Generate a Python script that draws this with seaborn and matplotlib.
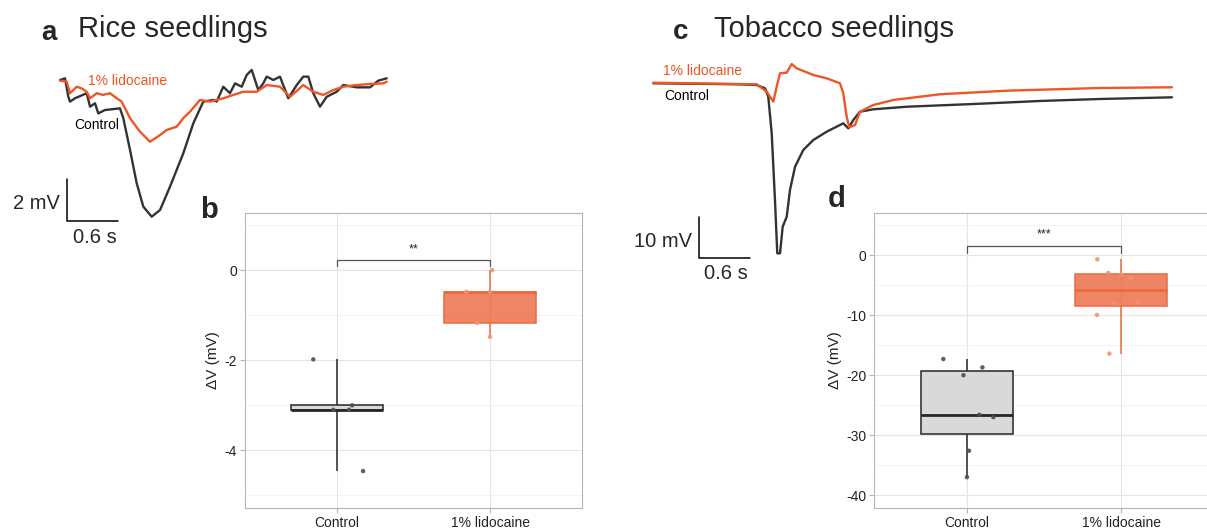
import numpy as np
import pandas as pd
import matplotlib
matplotlib.use("Agg")
import matplotlib.pyplot as plt
import matplotlib.colors as mcolors
import seaborn as sns

# ---- data ----
groups = ["Control", "1% lidocaine"]

# b: rice seedlings, delta V (mV)
rice_control = [-1.98, -3.0, -3.1, -3.1, -4.46]
rice_lido = [0.0, -0.48, -0.48, -1.17, -1.48]

# d: tobacco seedlings, delta V (mV)
tob_control = [-17.3, -18.7, -20.0, -26.6, -27.0, -32.6, -37.0]
tob_lido = [-0.67, -2.95, -3.28, -3.78, -7.83, -8.0, -9.95, -16.4]

# a: rice traces (time in s, voltage in mV)
rice_t_ctrl = [0, 0.058, 0.097, 0.117, 0.175, 0.311, 0.350, 0.408, 0.446, 0.524, 0.699, 0.738,
               0.816, 0.894, 0.971, 1.069, 1.166, 1.282, 1.437, 1.554, 1.670, 1.787, 1.826,
               1.903, 1.981, 2.040, 2.118, 2.176, 2.234, 2.311, 2.369, 2.409, 2.486, 2.564,
               2.661, 2.759, 2.836, 2.894, 2.952, 3.030, 3.108, 3.225, 3.302, 3.458, 3.613,
               3.710, 3.808]
rice_v_ctrl = [0, 0.08, -0.80, -1.03, -0.87, -0.63, -1.27, -1.11, -1.59, -1.43, -1.35, -1.82,
               -3.33, -4.92, -6.03, -6.51, -6.19, -5.08, -3.49, -2.06, -1.03, -0.95, -1.03,
               -0.32, -0.63, -0.16, -0.32, 0.24, 0.48, -0.48, -0.16, 0.16, 0.0, 0.16,
               -0.87, -0.24, 0.16, 0.16, -0.63, -1.27, -0.80, -0.56, -0.24, -0.35, -0.35,
               -0.03, 0.08]
rice_t_lido = [0, 0.078, 0.117, 0.195, 0.253, 0.311, 0.350, 0.428, 0.501, 0.583, 0.661, 0.719,
               0.816, 0.932, 1.049, 1.166, 1.244, 1.360, 1.437, 1.515, 1.632, 1.748, 1.903,
               2.020, 2.136, 2.293, 2.409, 2.564, 2.681, 2.836, 2.952, 3.069, 3.185, 3.302,
               3.458, 3.613, 3.768, 3.808]
rice_v_lido = [-0.03, -0.08, -0.63, -0.32, -0.40, -0.56, -0.87, -0.63, -0.71, -0.63, -0.87, -1.03,
               -1.82, -2.46, -2.94, -2.62, -2.38, -2.22, -1.82, -1.51, -0.95, -1.03, -0.87,
               -0.71, -0.56, -0.56, -0.24, -0.32, -0.80, -0.24, -0.56, -0.71, -0.48, -0.32,
               -0.24, -0.19, -0.16, -0.08]

# c: tobacco traces (time in s, voltage in mV)
tob_t_ctrl = [0, 1.010, 1.205, 1.302, 1.340, 1.380, 1.418, 1.445, 1.477, 1.508, 1.555, 1.593,
              1.652, 1.748, 1.865, 2.021, 2.214, 2.273, 2.331, 2.409, 2.564, 2.953, 3.730,
              4.507, 5.206, 6.045]
tob_v_ctrl = [0, -0.24, -0.41, -1.20, -3.22, -12.02, -28.05, -40.87, -40.87, -34.47, -32.07,
              -25.65, -20.05, -16.03, -13.63, -11.63, -9.62, -10.82, -8.82, -6.83, -6.25, -5.63,
              -4.98, -4.25, -3.77, -3.37]
tob_t_lido = [0, 1.205, 1.322, 1.399, 1.438, 1.477, 1.555, 1.613, 1.671, 1.865, 2.021, 2.176,
              2.214, 2.254, 2.284, 2.351, 2.409, 2.564, 2.797, 3.341, 4.119, 5.206, 6.045]
tob_v_lido = [0.14, -0.24, -2.02, -4.42, -0.82, 2.40, 2.55, 4.64, 3.61, 2.00, 1.20, 0.0,
              -2.40, -8.03, -10.58, -10.02, -6.83, -5.22, -4.01, -2.64, -1.78, -1.13, -0.96]

# scale bars
rice_bar_mv, tob_bar_mv, bar_s = 2, 10, 0.6

# colours
orange = "#ee5527"
dark = "#333333"
fills = {"Control": "#d9d9d9", "1% lidocaine": "#e8562a"}
fill_alpha = {"Control": 1.0, "1% lidocaine": 0.72}
edges = {"Control": "#262626", "1% lidocaine": "#ec6a42"}
dots = {"Control": "#4d4d4d", "1% lidocaine": "#f29270"}

sns.set_style("white")
plt.rcParams["font.family"] = ["Liberation Sans", "DejaVu Sans"]
plt.rcParams["axes.unicode_minus"] = False

W, H = 1207, 532
fig = plt.figure(figsize=(W / 100, H / 100), dpi=100)


def px_box(l, t, r, b):
    return [l / W, 1 - b / H, (r - l) / W, (b - t) / H]


# ---- trace panels ----
def trace_panel(box, xlim, ylim, t_c, v_c, t_l, v_l, bar_x, bar_y, bar_mv, lbl_mv, lbl_s,
                lido_lbl, ctrl_lbl):
    ax = fig.add_axes(box)
    sns.lineplot(x=t_c, y=v_c, color=dark, lw=1.7, ax=ax, sort=False)
    sns.lineplot(x=t_l, y=v_l, color=orange, lw=1.7, ax=ax, sort=False)
    ax.plot([bar_x, bar_x, bar_x + bar_s], [bar_y + bar_mv, bar_y, bar_y], color="black", lw=1.1)
    ax.text(lbl_mv[0], lbl_mv[1], f"{bar_mv} mV", ha="right", va="center", fontsize=14.5)
    ax.text(lbl_s[0], lbl_s[1], f"{bar_s} s", ha="center", va="center", fontsize=14.5)
    ax.text(lido_lbl[0], lido_lbl[1], "1% lidocaine", color=orange, fontsize=10, va="center")
    ax.text(ctrl_lbl[0], ctrl_lbl[1], "Control", color="black", fontsize=10, va="center")
    ax.set_xlim(*xlim)
    ax.set_ylim(*ylim)
    ax.axis("off")
    return ax


trace_panel(px_box(50, 60, 400, 240), ((50 - 60) / 85.8, (400 - 60) / 85.8),
            (-(240 - 80) / 21, -(60 - 80) / 21),
            rice_t_ctrl, rice_v_ctrl, rice_t_lido, rice_v_lido,
            0.078, -6.71, rice_bar_mv, (0.0, -5.86), (0.404, -7.52),
            (0.326, -0.05), (0.163, -2.14))

trace_panel(px_box(620, 50, 1190, 290), ((620 - 653.3) / 85.8, (1190 - 653.3) / 85.8),
            (-(290 - 83.3) / 4.16, (83.3 - 50) / 4.16),
            tob_t_ctrl, tob_v_ctrl, tob_t_lido, tob_v_lido,
            0.529, -42.07, tob_bar_mv, (0.448, -38.08), (0.841, -45.84),
            (0.113, 2.96), (0.125, -3.05))


# ---- box plot panels ----
def box_panel(box, ctrl, lido, yticks, yminor, ylim, bracket_y, tick_y, stars, star_y):
    ax = fig.add_axes(box)
    df = pd.DataFrame({"group": ["Control"] * len(ctrl) + ["1% lidocaine"] * len(lido),
                       "dv": ctrl + lido})
    for g in groups:
        sub = df[df["group"] == g]
        n0 = len(ax.patches)
        sns.boxplot(data=sub, x="group", y="dv", order=groups, color=fills[g],
                    linecolor=edges[g], width=0.6, whis=(0, 100), showfliers=False,
                    showcaps=False, saturation=1, linewidth=1.1,
                    medianprops=dict(linewidth=2.0), ax=ax)
        for p in ax.patches[n0:]:
            p.set_facecolor(mcolors.to_rgba(fills[g], fill_alpha[g]))
    np.random.seed(7)
    sns.stripplot(data=df, x="group", y="dv", hue="group", order=groups, palette=dots,
                  jitter=0.18, size=3.2, alpha=0.9, legend=False, ax=ax)
    for c in ax.collections:
        c.set_zorder(10)
    # significance bracket
    ax.plot([0, 0, 1, 1], [tick_y, bracket_y, bracket_y, tick_y], color="#555555", lw=0.9)
    ax.text(0.5, star_y, stars, ha="center", va="center", fontsize=9)

    ax.set_xlim(-0.6, 1.6)
    ax.set_ylim(*ylim)
    ax.set_yticks(yticks)
    ax.set_yticklabels([str(v) for v in yticks])
    ax.set_yticks(yminor, minor=True)
    ax.grid(True, which="major", color="#e4e4e4", lw=0.8)
    ax.grid(True, which="minor", axis="y", color="#efefef", lw=0.5)
    ax.set_axisbelow(True)
    for s in ax.spines.values():
        s.set_visible(True)
        s.set_color("#b5b5b5")
        s.set_linewidth(0.8)
    ax.tick_params(which="major", colors="#b5b5b5", labelcolor="#222222", length=3.5,
                   width=0.8, labelsize=10, left=True, bottom=True, pad=2)
    ax.tick_params(which="minor", length=0)
    ax.set_xlabel("")
    ax.set_ylabel("ΔV (mV)", fontsize=11, color="#222222", labelpad=3)
    return ax


box_panel(px_box(244.7, 213, 582, 508), rice_control, rice_lido,
          [0, -2, -4], [1, -1, -3, -5], (-5.28, 1.27), 0.22, 0.09, "**", 0.47)
box_panel(px_box(874.3, 212.7, 1213.7, 508.3), tob_control, tob_lido,
          [0, -10, -20, -30, -40], [5, -5, -15, -25, -35], (-42.2, 7.1), 1.6, 0.33, "***", 3.5)

# ---- titles and panel letters ----
fig.text(41 / W, 1 - 40 / H, "a", fontsize=20, fontweight="bold", va="baseline")
fig.text(78 / W, 1 - 37 / H, "Rice seedlings", fontsize=21, va="baseline")
fig.text(673 / W, 1 - 39 / H, "c", fontsize=20, fontweight="bold", va="baseline")
fig.text(714 / W, 1 - 37 / H, "Tobacco seedlings", fontsize=21, va="baseline")
fig.text(200 / W, 1 - 218 / H, "b", fontsize=21, fontweight="bold", va="baseline")
fig.text(828 / W, 1 - 207 / H, "d", fontsize=21, fontweight="bold", va="baseline")

fig.savefig("out.png", dpi=100, facecolor="white")
